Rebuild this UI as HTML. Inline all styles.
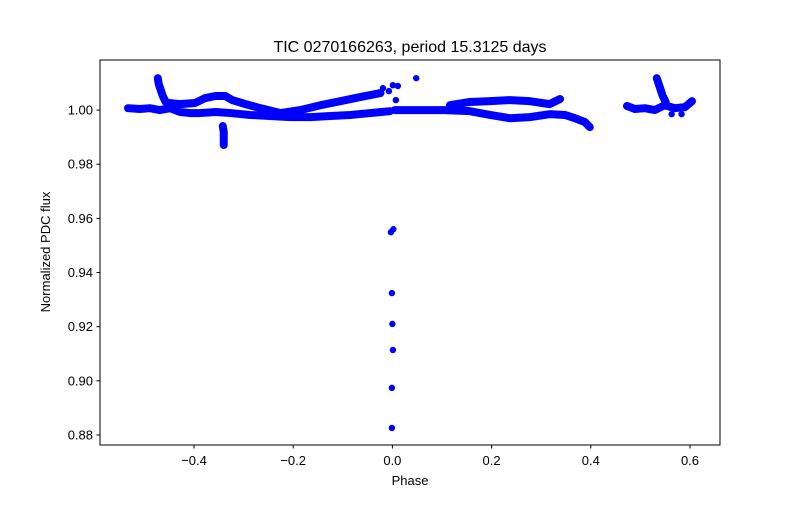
<!DOCTYPE html>
<html><head><meta charset="utf-8"><style>
body{margin:0;background:#fff;}
svg text{font-family:"Liberation Sans","DejaVu Sans",sans-serif;fill:#000;}
</style></head><body>
<svg id="chart" width="800" height="500" viewBox="0 0 800 500" xmlns="http://www.w3.org/2000/svg">
<rect width="800" height="500" fill="#fff"/>
<text x="410" y="52" font-size="16" text-anchor="middle">TIC 0270166263, period 15.3125 days</text>
<g id="marks"></g>
<rect x="100" y="60" width="620" height="385" fill="none" stroke="#000" stroke-width="1"/>
<g id="axes"></g>
<text x="410" y="485" font-size="13" text-anchor="middle">Phase</text>
<text transform="translate(50,252) rotate(-90)" font-size="13" text-anchor="middle">Normalized PDC flux</text>
</svg>
<script>
const xTicks=[-0.4,-0.2,0.0,0.2,0.4,0.6];
const yTicks=[0.88,0.90,0.92,0.94,0.96,0.98,1.00];
const lowerLeftPhase=[-0.533,-0.509,-0.489,-0.469,-0.448,-0.428,-0.408,-0.388,-0.356,-0.326,-0.287,-0.247,-0.206,-0.165,-0.125,-0.085,-0.045,-0.005];
const lowerLeftFlux=[1.0007,1.0004,1.0007,1.0,1.0007,0.9993,0.9989,0.9989,0.9993,0.9989,0.9982,0.9978,0.9974,0.9974,0.9978,0.9982,0.9989,0.9996];
const upperLeftPhase=[-0.448,-0.428,-0.398,-0.378,-0.357,-0.337,-0.323,-0.296,-0.266,-0.226,-0.186,-0.145,-0.105,-0.065,-0.024];
const upperLeftFlux=[1.0026,1.0022,1.0026,1.0044,1.0052,1.0052,1.0037,1.0022,1.0007,0.9989,1.0,1.0018,1.0033,1.0048,1.0063];
const spike1Phase=[-0.473,-0.471,-0.467,-0.463,-0.457,-0.448];
const spike1Flux=[1.0118,1.0096,1.0074,1.0052,1.003,1.0015];
const dipPhase=[-0.342,-0.340,-0.340,-0.340];
const dipFlux=[0.9941,0.9919,0.9897,0.9871];
const lowerRightPhase=[0.005,0.056,0.106,0.156,0.197,0.237,0.277,0.317,0.348,0.368,0.388,0.398];
const lowerRightFlux=[1.0,1.0,1.0,0.9996,0.9982,0.997,0.9974,0.9985,0.9982,0.997,0.9956,0.9937];
const upperRightPhase=[0.116,0.156,0.197,0.237,0.277,0.317,0.338];
const upperRightFlux=[1.0018,1.003,1.0033,1.0037,1.0033,1.0022,1.0041];
const groupPhase=[0.473,0.489,0.509,0.529,0.549,0.569,0.590,0.604];
const groupFlux=[1.0015,1.0004,1.0007,1.0,1.0018,1.0007,1.0011,1.0033];
const spike2Phase=[0.533,0.537,0.541,0.545,0.551];
const spike2Flux=[1.0118,1.0096,1.0074,1.0052,1.003];
const scatterPhase=[-0.019,-0.007,0.001,0.011,0.007,0.048,0.563,0.583];
const scatterFlux=[1.0081,1.007,1.0092,1.0089,1.0037,1.0118,0.9985,0.9985];
const transitPhase=[-0.003,0.002,-0.001,0.0,0.001,-0.001,-0.001];
const transitFlux=[0.9549,0.9560,0.9324,0.9210,0.9114,0.8974,0.8826];

const NS='http://www.w3.org/2000/svg';
const X0=-0.5895,X1=0.6605,Y0=0.8763,Y1=1.0185;
function sx(v){return 100+(v-X0)/(X1-X0)*620;}
function sy(v){return 445-(v-Y0)/(Y1-Y0)*385;}
const marks=document.getElementById('marks');
const axes=document.getElementById('axes');
function track(ph,fl,name){
  const pl=document.createElementNS(NS,'polyline');
  pl.setAttribute('points',ph.map((p,i)=>sx(p)+','+sy(fl[i])).join(' '));
  pl.setAttribute('fill','none');pl.setAttribute('stroke','#0000ff');
  pl.setAttribute('stroke-width','8');pl.setAttribute('stroke-linecap','round');pl.setAttribute('stroke-linejoin','round');
  
  
  marks.appendChild(pl);
  dots(ph,fl,name+'-point');
}
function dots(ph,fl,name){
  ph.forEach((p,i)=>{
    const c=document.createElementNS(NS,'circle');
    c.setAttribute('cx',sx(p));c.setAttribute('cy',sy(fl[i]));c.setAttribute('r','3.2');c.setAttribute('fill','#0000ff');
    
    
    marks.appendChild(c);
  });
}
track(lowerLeftPhase,lowerLeftFlux,'lower-left-band');
track(upperLeftPhase,upperLeftFlux,'upper-left-band');
track(spike1Phase,spike1Flux,'left-spike');
track(dipPhase,dipFlux,'left-dip');
track(lowerRightPhase,lowerRightFlux,'lower-right-band');
track(upperRightPhase,upperRightFlux,'upper-right-band');
track(groupPhase,groupFlux,'right-group-band');
track(spike2Phase,spike2Flux,'right-spike');
dots(scatterPhase,scatterFlux,'scatter-point');
dots(transitPhase,transitFlux,'transit-point');

xTicks.forEach(t=>{
  const x=sx(t);
  const l=document.createElementNS(NS,'line');
  l.setAttribute('x1',x);l.setAttribute('x2',x);l.setAttribute('y1',445);l.setAttribute('y2',448.5);l.setAttribute('stroke','#000');
  
  
  axes.appendChild(l);
  const tx=document.createElementNS(NS,'text');
  tx.setAttribute('x',x);tx.setAttribute('y',465);tx.setAttribute('font-size','13');tx.setAttribute('text-anchor','middle');
  tx.textContent=(t<0?'\u2212':'')+Math.abs(t).toFixed(1);
  
  
  axes.appendChild(tx);
});
yTicks.forEach(t=>{
  const y=sy(t);
  const l=document.createElementNS(NS,'line');
  l.setAttribute('x1',96.5);l.setAttribute('x2',100);l.setAttribute('y1',y);l.setAttribute('y2',y);l.setAttribute('stroke','#000');
  
  
  axes.appendChild(l);
  const tx=document.createElementNS(NS,'text');
  tx.setAttribute('x',93);tx.setAttribute('y',y+4.5);tx.setAttribute('font-size','13');tx.setAttribute('text-anchor','end');
  tx.textContent=t.toFixed(2);
  
  
  axes.appendChild(tx);
});
</script>
</body></html>
